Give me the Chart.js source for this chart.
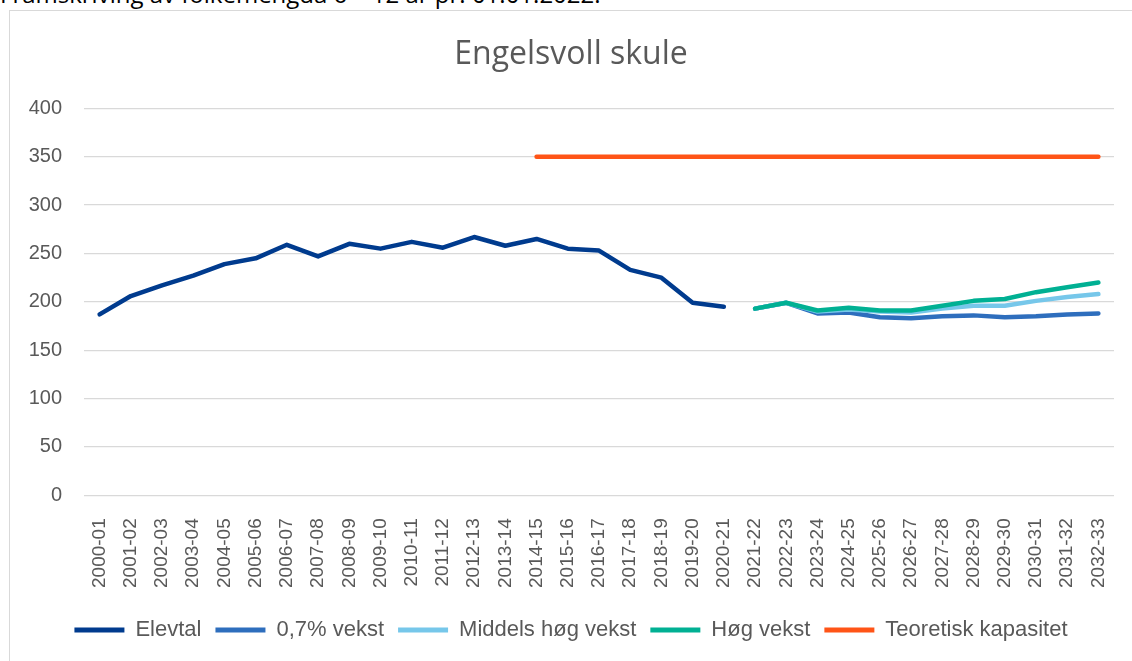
<!DOCTYPE html>
<html>
<head>
<meta charset="utf-8">
<script src="https://cdn.jsdelivr.net/npm/chart.js@4/dist/chart.umd.min.js"></script>
<style>
  html, body { margin: 0; padding: 0; background: #fff; overflow: hidden; }
  #wrap { position: relative; width: 1132px; height: 661px; }
  #heading {
    position: absolute; left: 0; top: -23px;
    font: 24px "Open Sans", sans-serif; color: #000; white-space: nowrap;
  }
  #frame {
    position: absolute; left: 9px; top: 10px; width: 1200px; height: 700px;
    border: 1px solid #d9d9d9; box-sizing: border-box;
  }
  #chart { position: absolute; left: 0; top: 0; }
</style>
</head>
<body>
<div id="wrap">
  <div id="heading">Framskriving av folkemengda 6 – 12 år pr. 01.01.2022.</div>
  <div id="frame"></div>
  <canvas id="chart" width="1132" height="661"></canvas>
</div>
<script>
const labels = ['2000-01','2001-02','2002-03','2003-04','2004-05','2005-06','2006-07','2007-08',
  '2008-09','2009-10','2010-11','2011-12','2012-13','2013-14','2014-15','2015-16','2016-17',
  '2017-18','2018-19','2019-20','2020-21','2021-22','2022-23','2023-24','2024-25','2025-26',
  '2026-27','2027-28','2028-29','2029-30','2030-31','2031-32','2032-33'];

const n = null;
const elevtal   = [187,206,217,227,239,245,259,247,260,255,262,256,267,258,265,255,253,233,225,199,195, n,n,n,n,n,n,n,n,n,n,n,n];
const vekst07   = [n,n,n,n,n,n,n,n,n,n,n,n,n,n,n,n,n,n,n,n,n, 193,199,188,189,184,183,185,186,184,185,187,188];
const middels   = [n,n,n,n,n,n,n,n,n,n,n,n,n,n,n,n,n,n,n,n,n, 193,199,190,192,190,189,193,196,196,201,205,208];
const hogVekst  = [n,n,n,n,n,n,n,n,n,n,n,n,n,n,n,n,n,n,n,n,n, 193,199,191,194,191,191,196,201,203,210,215,220];
const kapasitet = [n,n,n,n,n,n,n,n,n,n,n,n,n,n,350,350,350,350,350,350,350,350,350,350,350,350,350,350,350,350,350,350,350];

const grey = '#595959';

function line(label, data, color, order) {
  return {
    label, data, order,
    borderColor: color,
    backgroundColor: color,
    borderWidth: 4.5,
    borderCapStyle: 'round',
    borderJoinStyle: 'round',
    pointRadius: 0,
    pointHoverRadius: 0,
    tension: 0,
    spanGaps: false
  };
}

new Chart(document.getElementById('chart'), {
  type: 'line',
  data: {
    labels,
    datasets: [
      line('Elevtal', elevtal, '#003b8e', 5),
      line('0,7% vekst', vekst07, '#2e6ebd', 4),
      line('Middels høg vekst', middels, '#76c7ea', 3),
      line('Høg vekst', hogVekst, '#00b093', 2),
      line('Teoretisk kapasitet', kapasitet, '#ff5417', 1)
    ]
  },
  options: {
    responsive: false,
    animation: false,
    layout: { padding: { left: 28, right: 18, top: 0, bottom: 10 } },
    plugins: {
      title: {
        display: true,
        text: 'Engelsvoll skule',
        color: grey,
        font: { family: '"Open Sans", sans-serif', size: 32, weight: 'normal' },
        padding: { top: 36, bottom: 34 }
      },
      legend: {
        position: 'bottom',
        labels: {
          color: grey,
          font: { family: '"Liberation Sans", sans-serif', size: 22 },
          boxWidth: 50,
          boxHeight: 5,
          padding: 14,
          sort: (a, b) => a.datasetIndex - b.datasetIndex,
          generateLabels(chart) {
            return chart.data.datasets.map((ds, i) => ({
              text: ds.label,
              fillStyle: ds.borderColor,
              strokeStyle: ds.borderColor,
              lineWidth: 0,
              fontColor: grey,
              hidden: false,
              datasetIndex: i
            }));
          }
        }
      },
      tooltip: { enabled: false }
    },
    scales: {
      x: {
        offset: true,
        afterFit(scale) {
          scale.height += 2;
          scale.paddingLeft = 0;
          scale.paddingRight = 0;
        },
        grid: { display: false },
        border: { display: false },
        ticks: {
          color: grey,
          font: { family: '"Liberation Sans", sans-serif', size: 19 },
          minRotation: 90, maxRotation: 90,
          autoSkip: false,
          padding: 15
        }
      },
      y: {
        min: 0, max: 400,
        afterFit(scale) { scale.width = 56; },
        grid: { color: '#d9d9d9', lineWidth: 1.3, drawTicks: false },
        border: { display: false },
        ticks: {
          stepSize: 50,
          color: grey,
          font: { family: '"Liberation Sans", sans-serif', size: 20 },
          padding: 22
        }
      }
    }
  }
});
</script>
</body>
</html>
